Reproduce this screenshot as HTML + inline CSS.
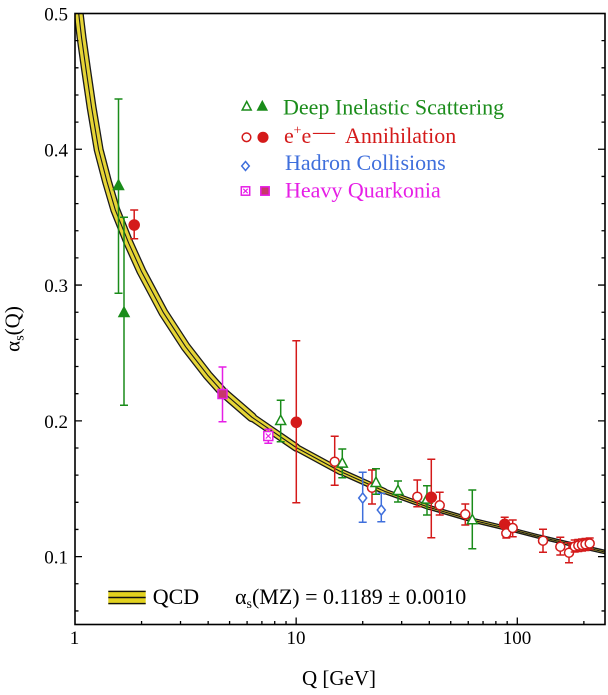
<!DOCTYPE html>
<html>
<head>
<meta charset="utf-8">
<style>
html,body{margin:0;padding:0;background:#fff;}
svg{display:block;}
text{font-family:"Liberation Serif","DejaVu Serif",serif;}
</style>
</head>
<body>
<svg width="608" height="695" viewBox="0 0 608 695" xmlns="http://www.w3.org/2000/svg">
<defs>
<clipPath id="pc"><rect x="75" y="13.5" width="530" height="611"/></clipPath>
</defs>
<rect x="0" y="0" width="608" height="695" fill="#fff"/>

<!-- QCD band -->
<g clip-path="url(#pc)" fill="none" stroke-linejoin="round" stroke-linecap="round">
  <g stroke="#1a1a1a">
    <path stroke-width="10" d="M75,-22.2 L78.7,13.5 L81.6,37.9 L86.06,69.5 L91.59,107.4 L98.71,149.9 L107.07,181.9 L115.29,209.9 L128.7,243.2 L141.35,271.2 L163.46,312.7 L185.58,346.7 L207.69,375.2 L222.73,392 L251.92,417.2"/>
    <path stroke-width="8.5" d="M251.92,417.2 L296.15,447.5"/>
    <path stroke-width="7.5" d="M296.15,447.5 L340.38,471.5"/>
    <path stroke-width="6.5" d="M340.38,471.5 L384.6,491.3"/>
    <path stroke-width="5.5" d="M384.6,491.3 L428.84,507.3"/>
    <path stroke-width="5" d="M428.84,507.3 L473.07,520.3 L508.45,528.8"/>
    <path stroke-width="4.6" d="M508.45,528.8 L539.4,536.8 L572.6,544.6 L607,552.5"/>
  </g>
  <g stroke="#e6d536">
    <path stroke-width="7.4" d="M75,-22.2 L78.7,13.5 L81.6,37.9 L86.06,69.5 L91.59,107.4 L98.71,149.9 L107.07,181.9 L115.29,209.9 L128.7,243.2 L141.35,271.2 L163.46,312.7 L185.58,346.7 L207.69,375.2 L222.73,392 L251.92,417.2"/>
    <path stroke-width="5.9" d="M251.92,417.2 L296.15,447.5"/>
    <path stroke-width="4.9" d="M296.15,447.5 L340.38,471.5"/>
    <path stroke-width="3.9" d="M340.38,471.5 L384.6,491.3"/>
    <path stroke-width="2.9" d="M384.6,491.3 L428.84,507.3"/>
    <path stroke-width="2.3" d="M428.84,507.3 L473.07,520.3 L508.45,528.8"/>
    <path stroke-width="1.8" d="M508.45,528.8 L539.4,536.8 L572.6,544.6 L607,552.5"/>
  </g>
  <path stroke="#1a1a1a" stroke-width="1.1" d="M75,-22.2 L78.7,13.5 L81.6,37.9 L86.06,69.5 L91.59,107.4 L98.71,149.9 L107.07,181.9 L115.29,209.9 L128.7,243.2 L141.35,271.2 L163.46,312.7 L185.58,346.7 L207.69,375.2 L222.73,392 L251.92,417.2 L296.15,447.5 L340.38,471.5 L384.6,491.3 L428.84,507.3 L473.07,520.3 L508.45,528.8 L539.4,536.8 L572.6,544.6 L607,552.5"/>
</g>

<!-- Frame -->
<rect x="75" y="13.5" width="530" height="611" fill="none" stroke="#000" stroke-width="1.6"/>

<!-- Y ticks left and right -->
<g stroke="#000" stroke-width="1.3">
  <path d="M75,40.66h3.5M75,67.81h3.5M75,94.97h3.5M75,122.12h3.5M75,149.28h7M75,176.44h3.5M75,203.59h3.5M75,230.75h3.5M75,257.9h3.5M75,285.06h7M75,312.22h3.5M75,339.37h3.5M75,366.53h3.5M75,393.68h3.5M75,420.84h7M75,448h3.5M75,475.15h3.5M75,502.31h3.5M75,529.46h3.5M75,556.62h7M75,583.78h3.5M75,610.93h3.5"/>
  <path d="M605,40.66h-3.5M605,67.81h-3.5M605,94.97h-3.5M605,122.12h-3.5M605,149.28h-7M605,176.44h-3.5M605,203.59h-3.5M605,230.75h-3.5M605,257.9h-3.5M605,285.06h-7M605,312.22h-3.5M605,339.37h-3.5M605,366.53h-3.5M605,393.68h-3.5M605,420.84h-7M605,448h-3.5M605,475.15h-3.5M605,502.31h-3.5M605,529.46h-3.5M605,556.62h-7M605,583.78h-3.5M605,610.93h-3.5"/>
  <!-- X ticks bottom -->
  <path d="M141.57,624.5v-3.5M180.52,624.5v-3.5M208.15,624.5v-3.5M229.58,624.5v-3.5M247.09,624.5v-3.5M261.89,624.5v-3.5M274.72,624.5v-3.5M286.03,624.5v-3.5M296.15,624.5v-7M362.72,624.5v-3.5M401.67,624.5v-3.5M429.3,624.5v-3.5M450.73,624.5v-3.5M468.24,624.5v-3.5M483.04,624.5v-3.5M495.87,624.5v-3.5M507.18,624.5v-3.5M517.3,624.5v-7M583.87,624.5v-3.5"/>
</g>

<!-- Tick labels -->
<g font-size="19" fill="#000" text-anchor="end">
  <text x="68" y="20.5">0.5</text>
  <text x="68" y="156.3">0.4</text>
  <text x="68" y="292">0.3</text>
  <text x="68" y="427.8">0.2</text>
  <text x="68" y="563.6">0.1</text>
</g>
<g font-size="19" fill="#000" text-anchor="middle">
  <text x="74.5" y="644">1</text>
  <text x="296" y="644">10</text>
  <text x="517" y="644">100</text>
</g>

<!-- Axis titles -->
<text x="339" y="685" font-size="21" text-anchor="middle" fill="#000">Q [GeV]</text>
<g transform="translate(19.5,329) rotate(-90)">
  <text x="0" y="0" font-size="21" text-anchor="middle" fill="#000">α<tspan font-size="14" dy="4">s</tspan><tspan dy="-4">(Q)</tspan></text>
</g>

<!-- Data points -->
<g stroke-width="1.5" fill="none">
  <!-- DIS filled -->
  <g stroke="#1a8c1a">
    <path d="M118.5,99V293.3M114.5,99h8M114.5,293.3h8"/>
    <path d="M118.5,180 L123.5,189.5 L113.5,189.5Z" fill="#1a8c1a"/>
    <path d="M124,217.3V405.3M120,217.3h8M120,405.3h8"/>
    <path d="M124,307.2 L129,316.5 L119,316.5Z" fill="#1a8c1a"/>
  </g>
  <g stroke="#d41a1a">
    <path d="M134.2,210V238.7M130.2,210h8M130.2,238.7h8"/>
    <circle cx="134.2" cy="225" r="5" fill="#d41a1a"/>
  </g>
  <g stroke="#e61ee6">
    <path d="M222.5,367V421.7M218.5,367h8M218.5,421.7h8"/>
    <rect x="218" y="389.5" width="9" height="9" fill="#c8376a"/>
    <path d="M268.3,429.3V443.3M264.3,429.3h8M264.3,443.3h8"/>
    <rect x="263.8" y="431.5" width="9" height="9" fill="#fff"/>
    <path d="M265.8,433.5l5,5M270.8,433.5l-5,5" stroke-width="1.1"/>
  </g>
  <!-- mixed series -->
  <g stroke="#1a8c1a">
    <path d="M280.7,400.3V441.7M276.7,400.3h8M276.7,441.7h8"/>
    <path d="M280.7,415.2 L285.7,424.5 L275.7,424.5Z" fill="#fff"/>
  </g>
  <g stroke="#d41a1a">
    <path d="M296.3,340.7V502.7M292.3,340.7h8M292.3,502.7h8"/>
    <circle cx="296.3" cy="422.3" r="5" fill="#d41a1a"/>
    <path d="M334.7,436.3V485.3M330.7,436.3h8M330.7,485.3h8"/>
    <circle cx="334.7" cy="461.7" r="4.5" fill="#fff"/>
  </g>
  <g stroke="#1a8c1a">
    <path d="M342.3,449V477.7M338.3,449h8M338.3,477.7h8"/>
    <path d="M342.3,457.8 L347.3,467.1 L337.3,467.1Z" fill="#fff"/>
  </g>
  <g stroke="#3f6fdc">
    <path d="M362.7,472.3V522.3M358.7,472.3h8M358.7,522.3h8"/>
    <path d="M362.7,493 L366.7,498 L362.7,503 L358.7,498Z" fill="#fff"/>
  </g>
  <g stroke="#d41a1a">
    <path d="M372,470V504M368,470h8M368,504h8"/>
    <circle cx="372" cy="487.7" r="4.5" fill="#fff"/>
  </g>
  <g stroke="#1a8c1a">
    <path d="M376,468.7V494.3M372,468.7h8M372,494.3h8"/>
    <path d="M376,477.2 L381,486.5 L371,486.5Z" fill="#fff"/>
  </g>
  <g stroke="#3f6fdc">
    <path d="M381.3,493.3V521.7M377.3,493.3h8M377.3,521.7h8"/>
    <path d="M381.3,505 L385.3,510 L381.3,515 L377.3,510Z" fill="#fff"/>
  </g>
  <g stroke="#1a8c1a">
    <path d="M398,481V502M394,481h8M394,502h8"/>
    <path d="M398,485.2 L403,494.5 L393,494.5Z" fill="#fff"/>
  </g>
  <g stroke="#d41a1a">
    <path d="M417.3,480V506.7M413.3,480h8M413.3,506.7h8"/>
    <circle cx="417.3" cy="496.7" r="4.5" fill="#fff"/>
  </g>
  <g stroke="#1a8c1a">
    <path d="M427,485.7V515M423,485.7h8M423,515h8"/>
    <path d="M427,493.8 L432,503.1 L422,503.1Z" fill="#fff"/>
  </g>
  <g stroke="#d41a1a">
    <path d="M431.3,459.3V537.7M427.3,459.3h8M427.3,537.7h8"/>
    <circle cx="431.3" cy="497.3" r="5" fill="#d41a1a"/>
    <path d="M439.7,492.3V515M435.7,492.3h8M435.7,515h8"/>
    <circle cx="439.7" cy="505.3" r="4.5" fill="#fff"/>
    <path d="M465.3,504V525M461.3,504h8M461.3,525h8"/>
    <circle cx="465.3" cy="514.3" r="4.5" fill="#fff"/>
  </g>
  <g stroke="#1a8c1a">
    <path d="M472.3,490V548.7M468.3,490h8M468.3,548.7h8"/>
    <path d="M472.3,514.5 L477.3,523.8 L467.3,523.8Z" fill="#fff"/>
  </g>
  <g stroke="#d41a1a">
    <path d="M504.7,517.3V528.3M500.7,517.3h8M500.7,528.3h8"/>
    <circle cx="504.7" cy="524.3" r="5" fill="#d41a1a"/>
    <path d="M506.3,528V538M502.3,538h8"/>
    <circle cx="506.3" cy="533.3" r="4.5" fill="#fff"/>
    <path d="M512.7,520V536.7M508.7,520h8M508.7,536.7h8"/>
    <circle cx="512.7" cy="528" r="4.5" fill="#fff"/>
    <path d="M543,529.3V552.3M539,529.3h8M539,552.3h8"/>
    <circle cx="543" cy="540.7" r="4.5" fill="#fff"/>
    <path d="M560.3,537.3V555M556.3,537.3h8M556.3,555h8"/>
    <circle cx="560.3" cy="546.7" r="4.5" fill="#fff"/>
    <path d="M569,542.7V562.7M565,542.7h8M565,562.7h8"/>
    <circle cx="569" cy="552.7" r="4.5" fill="#fff"/>
    <path d="M574.7,540V552M570.7,540h8M570.7,552h8"/>
    <circle cx="574.7" cy="546.5" r="4.5" fill="#fff"/>
    <path d="M578.3,539.5V551.5M574.3,539.5h8M574.3,551.5h8"/>
    <circle cx="578.3" cy="545.5" r="4.5" fill="#fff"/>
    <path d="M582,539V551M578,539h8M578,551h8"/>
    <circle cx="582" cy="545" r="4.5" fill="#fff"/>
    <path d="M585.5,538.5V550.5M581.5,538.5h8M581.5,550.5h8"/>
    <circle cx="585.5" cy="544.3" r="4.5" fill="#fff"/>
    <path d="M589.7,538V549.5M585.7,538h8M585.7,549.5h8"/>
    <circle cx="589.7" cy="543.5" r="4.5" fill="#fff"/>
  </g>
</g>

<!-- Top legend -->
<g stroke-width="1.5">
  <path d="M246.7,101.5 L251.2,110 L242.2,110Z" fill="#fff" stroke="#1a8c1a"/>
  <path d="M262.3,101.5 L266.8,110 L257.8,110Z" fill="#1a8c1a" stroke="#1a8c1a"/>
  <circle cx="246.5" cy="137.3" r="4.3" fill="#fff" stroke="#d41a1a"/>
  <circle cx="263" cy="137.3" r="4.8" fill="#d41a1a" stroke="#d41a1a"/>
  <path d="M245.5,161.5 L249.3,166 L245.5,170.5 L241.7,166Z" fill="#fff" stroke="#3f6fdc"/>
  <rect x="241.3" y="186.8" width="8.4" height="8.4" fill="#fff" stroke="#e61ee6"/>
  <path d="M243.3,188.8l4.4,4.4M247.7,188.8l-4.4,4.4" stroke="#e61ee6" stroke-width="1.1"/>
  <rect x="260.8" y="186.8" width="8.4" height="8.4" fill="#c8376a" stroke="#e61ee6"/>
</g>
<g font-size="22">
  <text x="283" y="114.5" fill="#1a8c1a">Deep Inelastic Scattering</text>
  <text x="284" y="143" fill="#d41a1a">e</text>
  <text x="293.5" y="134.5" font-size="14" fill="#d41a1a">+</text>
  <text x="301.5" y="143" fill="#d41a1a">e</text>
  <text x="313" y="138.5" fill="#d41a1a">—</text>
  <text x="345" y="143" fill="#d41a1a">Annihilation</text>
  <text x="285" y="170" fill="#3f6fdc">Hadron Collisions</text>
  <text x="285" y="197.3" fill="#e61ee6">Heavy Quarkonia</text>
</g>

<!-- Bottom legend -->
<rect x="108.3" y="590.7" width="37.4" height="13.6" fill="#e2d21e"/>
<g stroke="#111" stroke-width="1.4">
  <path d="M108.3,591.4H145.7M108.3,597.5H145.7M108.3,603.6H145.7"/>
</g>
<text x="152.7" y="604" font-size="22" fill="#000">QCD</text>
<text x="235" y="604" font-size="22" fill="#000">α<tspan font-size="14" dy="4">s</tspan><tspan dy="-4">(MZ) = 0.1189 ± 0.0010</tspan></text>
</svg>
</body>
</html>
